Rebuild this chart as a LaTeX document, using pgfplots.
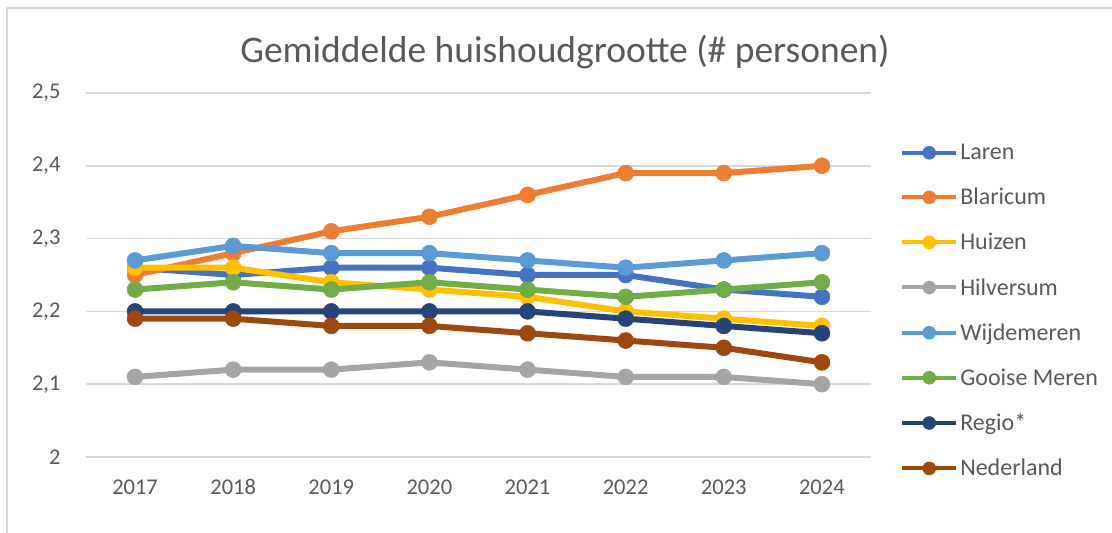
\documentclass[border=0pt]{standalone}
\usepackage{pgfplots}
\pgfplotsset{compat=1.18}
\usepackage{fontspec}
\setmainfont{Carlito}
\definecolor{cLaren}{HTML}{4472C4}
\definecolor{cBlaricum}{HTML}{ED7D31}
\definecolor{cHuizen}{HTML}{FFC000}
\definecolor{cHilversum}{HTML}{A5A5A5}
\definecolor{cWijdemeren}{HTML}{5B9BD5}
\definecolor{cGooise}{HTML}{70AD47}
\definecolor{cRegio}{HTML}{264478}
\definecolor{cNederland}{HTML}{9E480E}
\definecolor{txt}{HTML}{595959}
\definecolor{cgrid}{HTML}{D9D9D9}
\begin{document}
\begin{tikzpicture}[x=1pt,y=1pt]
\useasboundingbox (0,0) rectangle (1112,533);
\draw[cgrid, line width=2pt] (7,0) -- (7,525) -- (1112,525);
\node[anchor=base, text=txt, font=\fontsize{37.5}{44}\selectfont] at (565,470) {Gemiddelde huishoudgrootte (\# personen)};
\begin{axis}[
  at={(86pt,76pt)}, anchor=south west,
  scale only axis, width=785pt, height=364pt,
  xmin=2016.5, xmax=2024.5, ymin=2, ymax=2.5,
  xtick={2017,...,2024},
  xticklabels={2017,2018,2019,2020,2021,2022,2023,2024},
  ytick={2,2.1,2.2,2.3,2.4,2.5},
  yticklabels={2,{2,1},{2,2},{2,3},{2,4},{2,5}},
  axis line style={draw=none},
  major tick length=0pt,
  ymajorgrids, xmajorgrids=false, grid style={cgrid, line width=1.5pt},
  tick label style={text=txt, font=\fontsize{22.5}{26}\selectfont},
  yticklabel style={xshift=-22pt},
  xticklabel style={text height=15pt, text depth=0pt, yshift=-19pt},
  every axis plot/.append style={line width=6pt, mark=*, mark size=8pt, mark options={solid, line width=0.5pt}},
  legend cell align=left,
  legend style={draw=none, fill=none, at={(1.037,0.865)}, anchor=north west,
    font=\fontsize{24}{28}\selectfont, text=txt, row sep=23pt, inner sep=0pt,
    /tikz/every even column/.append style={column sep=0pt},
    nodes={inner sep=2pt}},
  legend image code/.code={\draw[mark repeat=2,mark phase=2,#1,line width=4pt,mark size=6.5pt] plot coordinates {(0pt,0pt)(27pt,0pt)(54pt,0pt)};},
]
\addplot[color=cLaren] coordinates {(2017,2.26)(2018,2.25)(2019,2.26)(2020,2.26)(2021,2.25)(2022,2.25)(2023,2.23)(2024,2.22)};
\addlegendentry{Laren}
\addplot[color=cBlaricum] coordinates {(2017,2.25)(2018,2.28)(2019,2.31)(2020,2.33)(2021,2.36)(2022,2.39)(2023,2.39)(2024,2.40)};
\addlegendentry{Blaricum}
\addplot[color=cHuizen] coordinates {(2017,2.26)(2018,2.26)(2019,2.24)(2020,2.23)(2021,2.22)(2022,2.20)(2023,2.19)(2024,2.18)};
\addlegendentry{Huizen}
\addplot[color=cHilversum] coordinates {(2017,2.11)(2018,2.12)(2019,2.12)(2020,2.13)(2021,2.12)(2022,2.11)(2023,2.11)(2024,2.10)};
\addlegendentry{Hilversum}
\addplot[color=cWijdemeren] coordinates {(2017,2.27)(2018,2.29)(2019,2.28)(2020,2.28)(2021,2.27)(2022,2.26)(2023,2.27)(2024,2.28)};
\addlegendentry{Wijdemeren}
\addplot[color=cGooise] coordinates {(2017,2.23)(2018,2.24)(2019,2.23)(2020,2.24)(2021,2.23)(2022,2.22)(2023,2.23)(2024,2.24)};
\addlegendentry{Gooise Meren}
\addplot[color=cRegio] coordinates {(2017,2.20)(2018,2.20)(2019,2.20)(2020,2.20)(2021,2.20)(2022,2.19)(2023,2.18)(2024,2.17)};
\addlegendentry{Regio*}
\addplot[color=cNederland] coordinates {(2017,2.19)(2018,2.19)(2019,2.18)(2020,2.18)(2021,2.17)(2022,2.16)(2023,2.15)(2024,2.13)};
\addlegendentry{Nederland}
\end{axis}
\end{tikzpicture}
\end{document}
